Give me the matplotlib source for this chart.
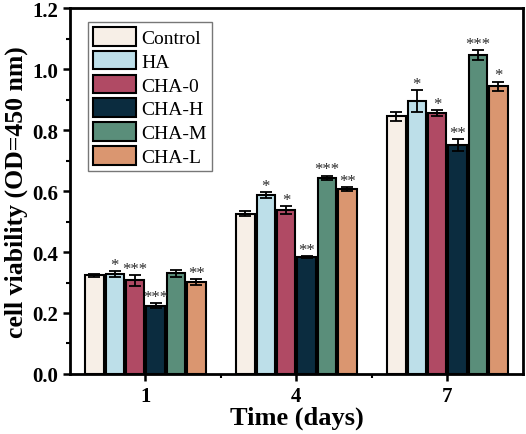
import numpy as np
import matplotlib.pyplot as plt
from matplotlib.ticker import MultipleLocator, FixedLocator

plt.rcParams['font.family'] = ['Liberation Serif', 'DejaVu Serif']

days = ['1', '4', '7']
groups = ['Control', 'HA', 'CHA-0', 'CHA-H', 'CHA-M', 'CHA-L']
colors = ['#F7EFE7', '#BDDFE9', '#B04A64', '#0B2C3F', '#5A8E7A', '#DA9670']

# mean OD values per group, one entry per day
control = [0.323, 0.526, 0.845]
ha = [0.328, 0.586, 0.896]
cha_0 = [0.307, 0.538, 0.855]
cha_h = [0.224, 0.384, 0.750]
cha_m = [0.330, 0.643, 1.047]
cha_l = [0.301, 0.607, 0.944]

control_err = [0.005, 0.007, 0.015]
ha_err = [0.010, 0.010, 0.036]
cha_0_err = [0.017, 0.012, 0.010]
cha_h_err = [0.009, 0.004, 0.020]
cha_m_err = [0.011, 0.008, 0.016]
cha_l_err = [0.009, 0.007, 0.015]

control_sig = ['', '', '']
ha_sig = ['*', '*', '*']
cha_0_sig = ['***', '*', '*']
cha_h_sig = ['***', '**', '**']
cha_m_sig = ['', '***', '***']
cha_l_sig = ['**', '**', '*']

means = [control, ha, cha_0, cha_h, cha_m, cha_l]
errs = [control_err, ha_err, cha_0_err, cha_h_err, cha_m_err, cha_l_err]
sigs = [control_sig, ha_sig, cha_0_sig, cha_h_sig, cha_m_sig, cha_l_sig]

fig = plt.figure(figsize=(5.26, 4.35), dpi=100)
ax = fig.add_axes([0.133, 0.138, 0.861, 0.841])

x = np.arange(len(days))
slot = 0.135
width = 0.122
for i, name in enumerate(groups):
    pos = x + (i - 2.5) * slot
    ax.bar(pos, means[i], width, color=colors[i], edgecolor='black',
           linewidth=1.5, label=name, zorder=2)
    ax.errorbar(pos, means[i], yerr=errs[i], fmt='none', ecolor='black',
                elinewidth=1.3, capsize=4, capthick=1.3, zorder=3)
    for j in range(len(days)):
        if sigs[i][j]:
            ax.text(pos[j], means[i][j] + errs[i][j] - 0.006, sigs[i][j],
                    ha='center', va='bottom', fontsize=12, color='#2a2a2a')

ax.set_xlim(-0.5, 2.5)
ax.set_ylim(0, 1.2)
ax.set_xticks(x)
ax.set_xticklabels(days)
ax.xaxis.set_minor_locator(FixedLocator([0.5, 1.5]))
ax.yaxis.set_major_locator(MultipleLocator(0.2))
ax.yaxis.set_minor_locator(MultipleLocator(0.1))
ax.yaxis.set_major_formatter(plt.FormatStrFormatter('%.1f'))

for s in ax.spines.values():
    s.set_linewidth(2)
ax.tick_params(which='major', direction='out', length=5, width=1.8,
               labelsize=15)
ax.tick_params(which='minor', direction='out', length=3, width=1.5)
for lab in ax.get_xticklabels() + ax.get_yticklabels():
    lab.set_fontweight('bold')

ax.set_xlabel('Time (days)', fontsize=19, fontweight='bold', labelpad=0)
ax.set_ylabel('cell viability (OD=450 nm)', fontsize=18.5, fontweight='bold',
              labelpad=3)

leg = ax.legend(loc='upper left', bbox_to_anchor=(0.04, 0.962),
                fontsize=14, frameon=True, fancybox=False,
                handlelength=2.2, handleheight=1.1, labelspacing=0.2,
                handletextpad=0.3, borderpad=0.25, borderaxespad=0)
leg.get_frame().set_edgecolor('#555555')
leg.get_frame().set_linewidth(1.0)

fig.savefig('out.png', dpi=100)
